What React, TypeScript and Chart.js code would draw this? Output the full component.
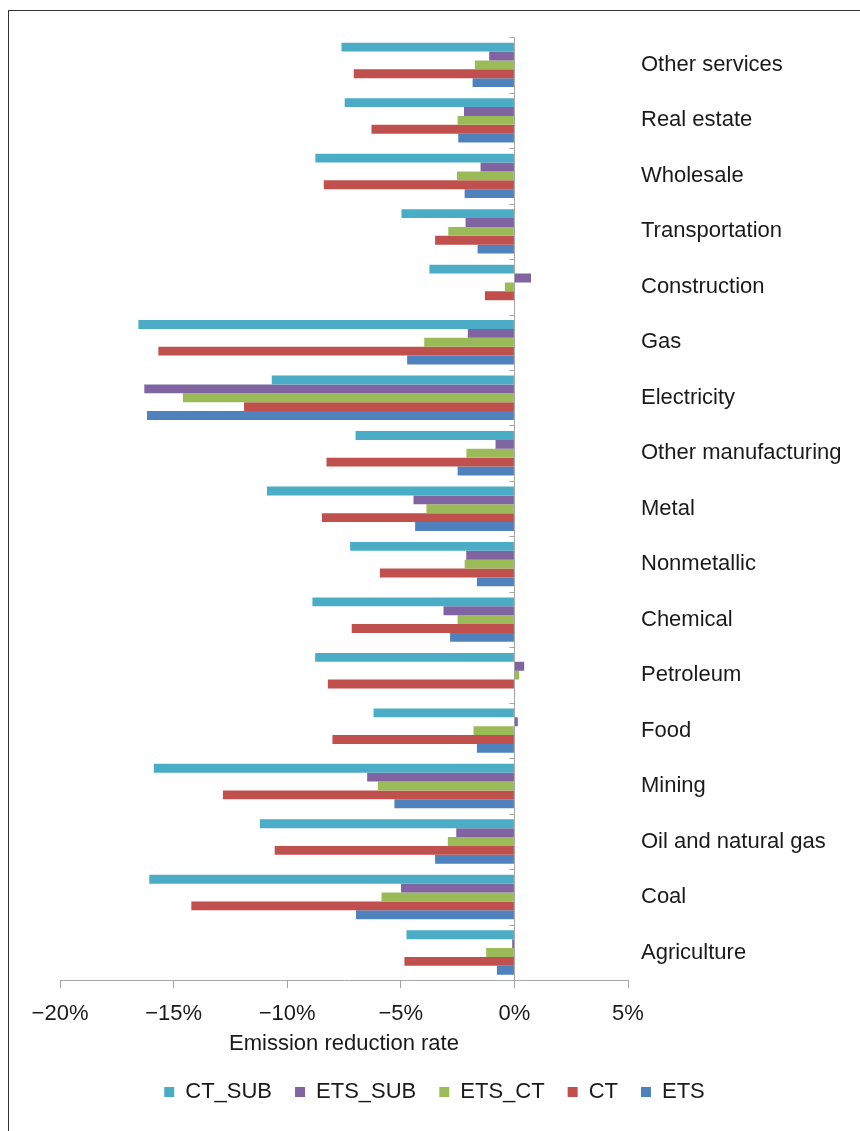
import React, { useEffect, useRef } from 'react';
import { Chart, registerables } from 'chart.js';

Chart.register(...registerables);

const categories = [
  'Other services',
  'Real estate',
  'Wholesale',
  'Transportation',
  'Construction',
  'Gas',
  'Electricity',
  'Other manufacturing',
  'Metal',
  'Nonmetallic',
  'Chemical',
  'Petroleum',
  'Food',
  'Mining',
  'Oil and natural gas',
  'Coal',
  'Agriculture',
];

const seriesNames = ['CT_SUB', 'ETS_SUB', 'ETS_CT', 'CT', 'ETS'];

const ctSub = [-7.61, -7.47, -8.76, -4.97, -3.74, -16.55, -10.68, -6.99, -10.89, -7.23, -8.89, -8.77, -6.2, -15.87, -11.2, -16.07, -4.75];
const etsSub = [-1.11, -2.22, -1.49, -2.15, 0.73, -2.05, -16.29, -0.83, -4.44, -2.12, -3.12, 0.43, 0.15, -6.48, -2.56, -4.99, -0.1];
const etsCt = [-1.74, -2.5, -2.53, -2.91, -0.42, -3.97, -14.59, -2.11, -3.87, -2.19, -2.5, 0.21, -1.8, -6.01, -2.93, -5.85, -1.24];
const ct = [-7.07, -6.29, -8.39, -3.49, -1.3, -15.67, -11.9, -8.27, -8.47, -5.92, -7.16, -8.21, -8.01, -12.83, -10.55, -14.22, -4.84];
const ets = [-1.84, -2.47, -2.19, -1.62, 0, -4.72, -16.17, -2.5, -4.37, -1.65, -2.83, 0.03, -1.65, -5.28, -3.49, -6.97, -0.77];

const xMin = -20;
const xMax = 5;
const xStep = 5;
const xTitle = 'Emission reduction rate';

const colors = ['#4BACC6', '#8064A2', '#9BBB59', '#C0504D', '#4F81BD'];
const axisGrey = '#a6a6a6';
const textColor = '#1a1a1a';
const fontFamily = '"Liberation Sans", Arial, Helvetica, sans-serif';

const boundaryTicks = {
  id: 'boundaryTicks',
  afterDatasetsDraw(chart: any) {
    const x = chart.scales.x;
    const y = chart.scales.y;
    const x0 = x.getPixelForValue(0);
    const ctx = chart.ctx;
    ctx.save();
    ctx.strokeStyle = axisGrey;
    ctx.lineWidth = 1;
    for (let i = 0; i <= categories.length; i++) {
      const py = Math.round(y.getPixelForValue(i - 0.5)) + 0.5;
      ctx.beginPath();
      ctx.moveTo(x0 - 5, py);
      ctx.lineTo(x0, py);
      ctx.stroke();
    }
    ctx.restore();
  },
};

export default function App() {
  const ref = useRef<HTMLCanvasElement | null>(null);

  useEffect(() => {
    if (!ref.current) return;
    const all = [ctSub, etsSub, etsCt, ct, ets];
    const chart = new Chart(ref.current, {
      type: 'bar',
      data: {
        labels: categories,
        datasets: all.map((d, i) => ({
          label: seriesNames[i],
          data: d,
          backgroundColor: colors[i],
          borderWidth: 0,
          categoryPercentage: 0.8,
          barPercentage: 1.0,
        })),
      },
      options: {
        indexAxis: 'y',
        animation: false,
        responsive: true,
        maintainAspectRatio: false,
        layout: { padding: { top: 26, left: 0, right: 0, bottom: 18 } },
        plugins: {
          tooltip: { enabled: false },
          legend: {
            position: 'bottom',
            labels: {
              boxWidth: 10,
              boxHeight: 10,
              padding: 23,
              color: textColor,
              font: { family: fontFamily, size: 22 },
            },
          },
        },
        scales: {
          x: {
            min: xMin,
            max: xMax,
            ticks: {
              stepSize: xStep,
              color: textColor,
              padding: 13,
              font: { family: fontFamily, size: 22 },
              callback: (v: any) => (v < 0 ? '\u2212' + Math.abs(v) : String(v)) + '%',
            },
            grid: {
              drawOnChartArea: true,
              color: (c: any) => (c.tick && c.tick.value === 0 ? axisGrey : 'rgba(0,0,0,0)'),
              tickColor: axisGrey,
              tickLength: 8,
            },
            border: { display: true, color: axisGrey },
            title: {
              display: true,
              text: xTitle,
              color: textColor,
              font: { family: fontFamily, size: 22 },
              padding: { top: -10, bottom: 1 },
            },
          },
          y: {
            position: 'right',
            grid: { display: false, drawTicks: false },
            border: { display: false },
            ticks: {
              color: textColor,
              padding: 13,
              font: { family: fontFamily, size: 22 },
            },
            afterFit: (s: any) => {
              s.width = 232;
            },
          },
          yLeftSpace: {
            type: 'category',
            position: 'left',
            grid: { display: false, drawTicks: false },
            border: { display: false },
            ticks: { display: false },
            afterFit: (s: any) => {
              s.width = 51;
            },
          },
        },
      },
      plugins: [boundaryTicks],
    });
    return () => chart.destroy();
  }, []);

  return (
    <div
      style={{
        position: 'absolute',
        left: 8,
        top: 10,
        width: 852,
        height: 1121,
        borderLeft: '1px solid #333',
        borderTop: '1px solid #333',
        boxSizing: 'border-box',
        background: '#fff',
      }}
    >
      <div style={{ position: 'relative', width: 851, height: 1120 }}>
        <canvas ref={ref} />
      </div>
    </div>
  );
}
